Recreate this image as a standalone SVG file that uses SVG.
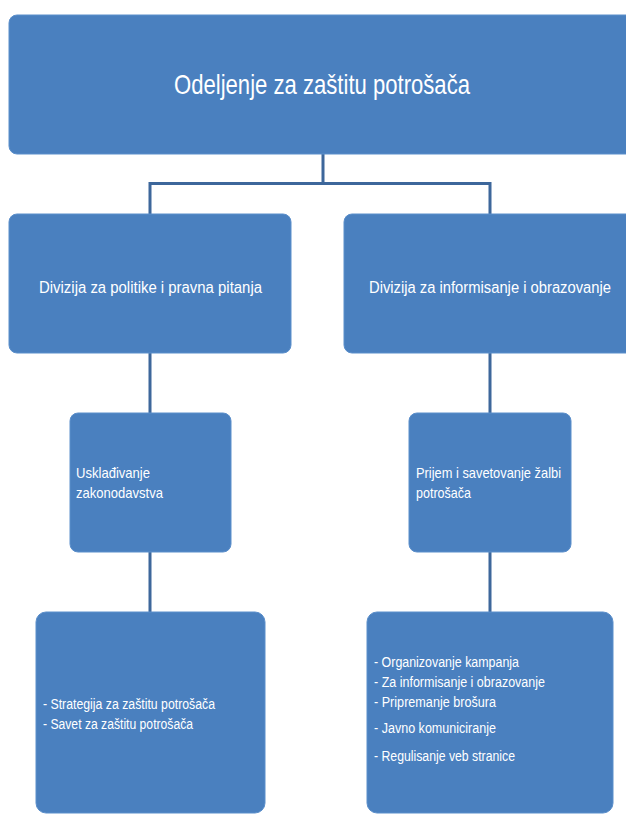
<svg xmlns="http://www.w3.org/2000/svg" width="626" height="815" viewBox="0 0 626 815">
<style>
.box{fill:#4a80bf;stroke:#5b8fcb;stroke-width:1}
.conn{stroke:#3d679b;stroke-width:3;fill:none}
text{font-family:"Liberation Sans",Arial,sans-serif;fill:#ffffff}
.t1{font-size:28px}
.t2{font-size:16px}
.t3{font-size:15px}
.t4{font-size:14px}
</style>
<rect width="626" height="815" fill="#ffffff"/>
<g id="connectors">
<path class="conn" d="M323 154 V183.5 M150 183.5 H491 M150 182 V214 M490 182 V214"/>
<path class="conn" d="M150 353 V413 M490 353 V413"/>
<path class="conn" d="M150 552 V612 M490 552 V612"/>
</g>
<g id="n-top">
<rect class="box" x="9" y="15" width="630" height="139" rx="8"/>
<text class="t1" x="174" y="94" textLength="296" lengthAdjust="spacingAndGlyphs">Odeljenje za zaštitu potrošača</text>
</g>
<g id="n-div-left">
<rect class="box" x="9" y="214" width="282" height="139" rx="8"/>
<text class="t2" x="39" y="293" textLength="223" lengthAdjust="spacingAndGlyphs">Divizija za politike i pravna pitanja</text>
</g>
<g id="n-div-right">
<rect class="box" x="344" y="214" width="295" height="139" rx="8"/>
<text class="t2" x="369" y="293" textLength="242" lengthAdjust="spacingAndGlyphs">Divizija za informisanje i obrazovanje</text>
</g>
<g id="n-uskladjivanje">
<rect class="box" x="70" y="413" width="161" height="139" rx="8"/>
<text class="t3" x="76" y="478" textLength="74" lengthAdjust="spacingAndGlyphs">Usklađivanje</text>
<text class="t3" x="76" y="498" textLength="87" lengthAdjust="spacingAndGlyphs">zakonodavstva</text>
</g>
<g id="n-prijem">
<rect class="box" x="409" y="413" width="162" height="139" rx="8"/>
<text class="t3" x="416" y="478" textLength="145" lengthAdjust="spacingAndGlyphs">Prijem i savetovanje žalbi</text>
<text class="t3" x="416" y="498" textLength="55" lengthAdjust="spacingAndGlyphs">potrošača</text>
</g>
<g id="n-strategija">
<rect class="box" x="36" y="612" width="229" height="201" rx="10"/>
<text class="t4" x="43" y="709" textLength="172" lengthAdjust="spacingAndGlyphs">- Strategija za zaštitu potrošača</text>
<text class="t4" x="43" y="729" textLength="150" lengthAdjust="spacingAndGlyphs">- Savet za zaštitu potrošača</text>
</g>
<g id="n-organizovanje">
<rect class="box" x="367" y="612" width="246" height="201" rx="10"/>
<text class="t4" x="374" y="667" textLength="145" lengthAdjust="spacingAndGlyphs">- Organizovanje kampanja</text>
<text class="t4" x="374" y="687" textLength="171" lengthAdjust="spacingAndGlyphs">- Za informisanje i obrazovanje</text>
<text class="t4" x="374" y="707" textLength="122" lengthAdjust="spacingAndGlyphs">- Pripremanje brošura</text>
<text class="t4" x="374" y="733" textLength="122" lengthAdjust="spacingAndGlyphs">- Javno komuniciranje</text>
<text class="t4" x="374" y="761" textLength="141" lengthAdjust="spacingAndGlyphs">- Regulisanje veb stranice</text>
</g>
</svg>
